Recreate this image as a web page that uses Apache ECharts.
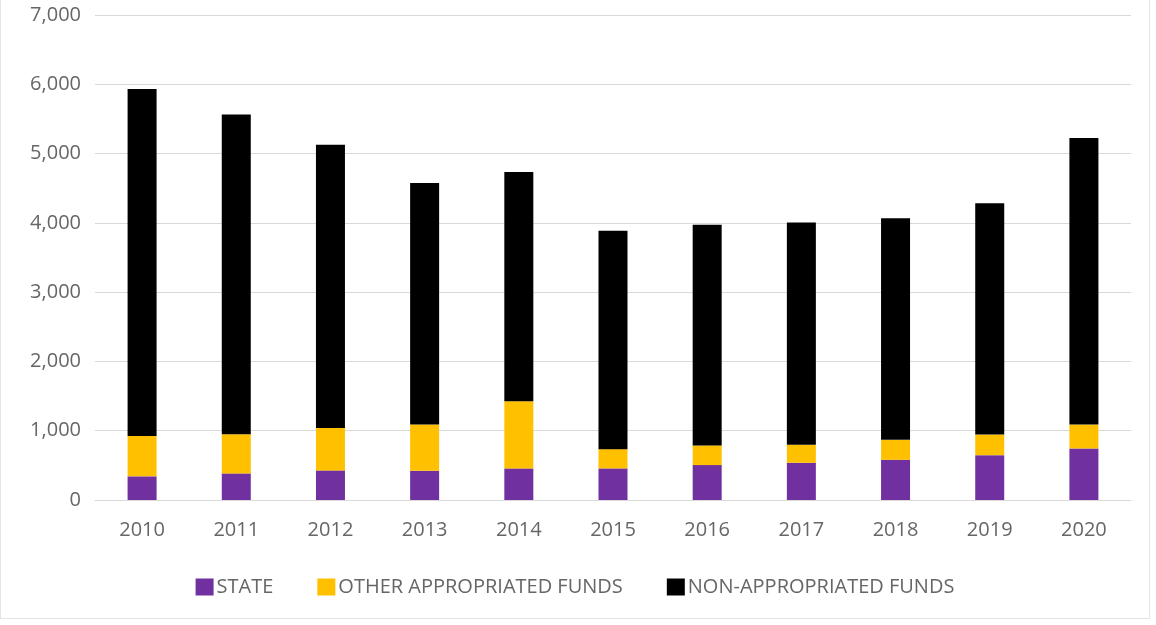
<!DOCTYPE html>
<html>
<head>
<meta charset="utf-8">
<script src="https://cdn.jsdelivr.net/npm/echarts@6/dist/echarts.min.js"></script>
<style>
  html, body { margin: 0; padding: 0; background: #fff; }
  #chart {
    width: 1150px; height: 619px; box-sizing: border-box;
    border: 1px solid #e3e3e3; border-top: none;
  }
</style>
</head>
<body>
<div id="chart"></div>
<script>
const years = ['2010', '2011', '2012', '2013', '2014', '2015', '2016', '2017', '2018', '2019', '2020']
const state = [341, 384, 427, 422, 456, 456, 504, 537, 580, 647, 744]
const otherAppropriated = [584, 566, 613, 667, 968, 278, 283, 259, 288, 298, 345]
const nonAppropriated = [5007, 4614, 4087, 3487, 3310, 3151, 3184, 3208, 3199, 3338, 4134]

const labelColor = '#666666'
const font = '"Open Sans", "Noto Sans", sans-serif'

const chart = echarts.init(document.getElementById('chart'))

function barSeries(name, data, color) {
  return {
    name,
    type: 'bar',
    stack: 'total',
    data,
    barWidth: 29,
    itemStyle: { color },
    emphasis: { disabled: true }
  }
}

chart.setOption({
  animation: false,
  grid: { top: 15, left: 94, right: 18, bottom: 118 },
  legend: {
    top: 572,
    left: 'center',
    itemWidth: 18,
    itemHeight: 17,
    itemGap: 44,
    icon: 'rect',
    textStyle: { color: labelColor, fontSize: 20, fontFamily: font, padding: [0, 0, 0, -2] },
    data: ['STATE', 'OTHER APPROPRIATED FUNDS', 'NON-APPROPRIATED FUNDS']
  },
  xAxis: {
    type: 'category',
    data: years,
    axisLine: { lineStyle: { color: '#d9d9d9' } },
    axisTick: { show: false },
    axisLabel: { color: labelColor, fontSize: 20, fontFamily: font, margin: 20 }
  },
  yAxis: {
    type: 'value',
    min: 0,
    max: 7000,
    interval: 1000,
    axisLine: { show: false },
    axisTick: { show: false },
    splitLine: { lineStyle: { color: '#d9d9d9' } },
    axisLabel: {
      color: labelColor,
      fontSize: 20,
      fontFamily: font,
      margin: 14,
      formatter: v => v.toLocaleString('en-US')
    }
  },
  series: [
    barSeries('STATE', state, '#7030A0'),
    barSeries('OTHER APPROPRIATED FUNDS', otherAppropriated, '#FFC000'),
    barSeries('NON-APPROPRIATED FUNDS', nonAppropriated, '#000000')
  ]
})
</script>
</body>
</html>
